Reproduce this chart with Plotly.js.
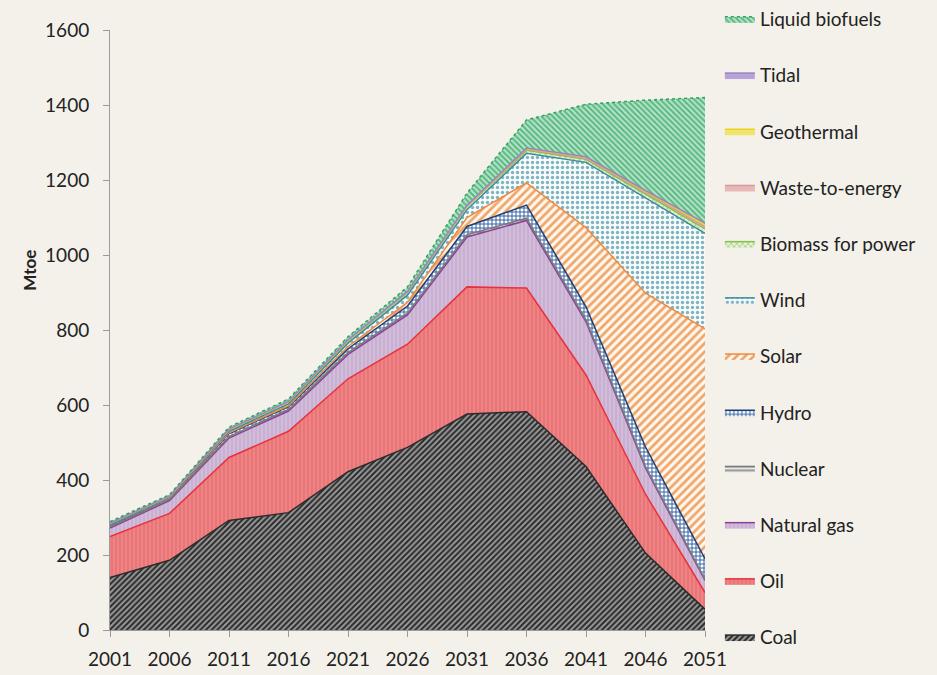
<!DOCTYPE html>
<html>
<head>
<meta charset="utf-8">
<script src="https://cdn.plot.ly/plotly-3.0.1.min.js"></script>
<style>html,body{margin:0;padding:0;background:#f3f1e9;}#chart{width:937px;height:675px;}</style>
</head>
<body>
<div id="chart"></div>
<script>
var years = [2001, 2006, 2011, 2016, 2021, 2026, 2031, 2036, 2041, 2046, 2051];
var coal       = [140, 186, 292, 313, 422, 487, 576, 582, 436, 205, 55];
var oil        = [109, 125, 168, 217, 248, 275, 339, 330, 244, 157, 45];
var naturalGas = [23, 34, 52, 54, 65, 78, 133, 180, 142, 70, 32];
var nuclear    = [3, 3, 4, 4, 5, 5, 6, 6, 5, 4, 3];
var hydro      = [5, 4, 8, 8, 10, 19, 22, 35, 35, 52, 55];
var solar      = [0.3, 0.5, 2, 2, 6, 10, 24, 59, 211, 410, 613];
var wind       = [0.5, 1, 4, 5, 9, 19, 21, 79, 174, 254, 255];
var biomass    = [3, 2.5, 4, 5, 6, 7, 8, 8, 8, 10, 12];
var waste      = [0.5, 0.5, 1, 1, 2, 2, 2, 3, 3, 4, 6];
var geothermal = [0.5, 0.5, 0.5, 0.5, 1, 1, 2, 2, 3, 4, 6];
var tidal      = [0, 0, 0, 0, 0, 0, 0, 1, 1, 2, 3];
var liquidBio  = [4, 4, 5.5, 6.5, 8, 12, 32, 75, 140, 241, 335];

var seriesNames = ["Coal", "Oil", "Natural gas", "Nuclear", "Hydro", "Solar", "Wind",
  "Biomass for power", "Waste-to-energy", "Geothermal", "Tidal", "Liquid biofuels"];
var seriesValues = [coal, oil, naturalGas, nuclear, hydro, solar, wind, biomass, waste, geothermal, tidal, liquidBio];

var styles = [
  {line: "#2b2b2b", dash: "solid", fill: "#8c8c8c", pat: {shape: "/", fgcolor: "#2a2a2a", bgcolor: "#999999", size: 4, solidity: 0.5}},
  {line: "#e8313c", dash: "solid", fill: "#ef7a7a", pat: {shape: "|", fgcolor: "#e46c6e", bgcolor: "#f08383", size: 4, solidity: 0.3}},
  {line: "#8a3f9a", dash: "solid", fill: "#cdb6d6", pat: {shape: "|", fgcolor: "#c2a8ce", bgcolor: "#d2bcda", size: 4, solidity: 0.3}},
  {line: "#7a7a7a", dash: "solid", fill: "#c8c8c8", pat: {shape: "-", fgcolor: "#888888", bgcolor: "#e6e6e6", size: 4, solidity: 0.4}},
  {line: "#203f6e", dash: "solid", fill: "#6d8fc0", pat: {shape: "+", fgcolor: "#3a64a4", bgcolor: "#ffffff", size: 4, solidity: 0.45}},
  {line: "#ee8a3e", dash: "solid", fill: "#f6c49c", pat: {shape: "/", fgcolor: "#f0a567", bgcolor: "#fdf7f0", size: 6, solidity: 0.45}},
  {line: "#3c8b9c", dash: "solid", fill: "#c5e2e8", pat: {shape: ".", fgcolor: "#7fb2c2", bgcolor: "#f7fbfa", size: 5, solidity: 0.35}},
  {line: "#86c04e", dash: "solid", fill: "#c4e0a8", pat: {shape: "x", fgcolor: "#8cc45c", bgcolor: "#e6f2da", size: 4, solidity: 0.3}},
  {line: "#d99a9a", dash: "solid", fill: "#e8b8b8", pat: {shape: "", fgcolor: "#d99a9a", bgcolor: "#e8b8b8", size: 4, solidity: 0.3}},
  {line: "#e8d21e", dash: "solid", fill: "#f2e46a", pat: {shape: "", fgcolor: "#e8d21e", bgcolor: "#f2e46a", size: 4, solidity: 0.3}},
  {line: "#9c84c4", dash: "solid", fill: "#b7a4d6", pat: {shape: "", fgcolor: "#9c84c4", bgcolor: "#b7a4d6", size: 4, solidity: 0.3}},
  {line: "#35a062", dash: "dot", fill: "#9fdab8", pat: {shape: "\\", fgcolor: "#52b47c", bgcolor: "#b2e2c6", size: 4, solidity: 0.45}}
];

var traces = seriesNames.map(function (name, i) {
  return {
    type: "scatter",
    mode: "lines",
    x: years,
    y: seriesValues[i],
    name: name,
    stackgroup: "one",
    legendgroup: "g" + i,
    legendrank: 1000 - i,
    line: {color: styles[i].line, width: 1.5, dash: styles[i].dash},
    fillcolor: styles[i].fill,
    fillpattern: styles[i].pat,
    hoverinfo: "x+y+name"
  };
});

var fontFam = "Lato, 'Open Sans', sans-serif";
var layout = {
  width: 937, height: 675,
  paper_bgcolor: "#f3f1e9",
  plot_bgcolor: "#f3f1e9",
  margin: {l: 110, r: 232, t: 0, b: 10},
  font: {family: fontFam, size: 19, color: "#222222"},
  showlegend: true,
  legend: {
    x: 1.025, xanchor: "left", y: 1.0, yanchor: "top",
    traceorder: "grouped",
    tracegroupgap: 28.5,
    itemwidth: 30,
    bgcolor: "rgba(0,0,0,0)",
    font: {family: fontFam, size: 19, color: "#222222"}
  },
  xaxis: {
    range: [2001, 2051],
    tickmode: "array",
    tickvals: years,
    ticktext: years.map(String),
    ticks: "outside", ticklen: 6, tickcolor: "#9a9a9a",
    ticklabelstandoff: 6,
    showline: true, linecolor: "#9a9a9a", linewidth: 1,
    showgrid: false, zeroline: false,
    tickfont: {family: fontFam, size: 19, color: "#222222"}
  },
  yaxis: {
    domain: [35 / 665, 635 / 665],
    range: [0, 1600],
    dtick: 200,
    ticks: "outside", ticklen: 6, tickcolor: "#9a9a9a",
    ticklabelstandoff: 10,
    showline: true, linecolor: "#9a9a9a", linewidth: 1,
    showgrid: false, zeroline: false,
    tickfont: {family: fontFam, size: 19, color: "#222222"}
  },
  annotations: [{
    text: "<b>Mtoe</b>", textangle: -90,
    xref: "paper", yref: "paper", x: -0.135, y: 0.594,
    xanchor: "center", yanchor: "middle", showarrow: false,
    font: {family: fontFam, size: 17, color: "#222222"}
  }]
};

Plotly.newPlot("chart", traces, layout, {displayModeBar: false, staticPlot: true});
</script>
</body>
</html>
